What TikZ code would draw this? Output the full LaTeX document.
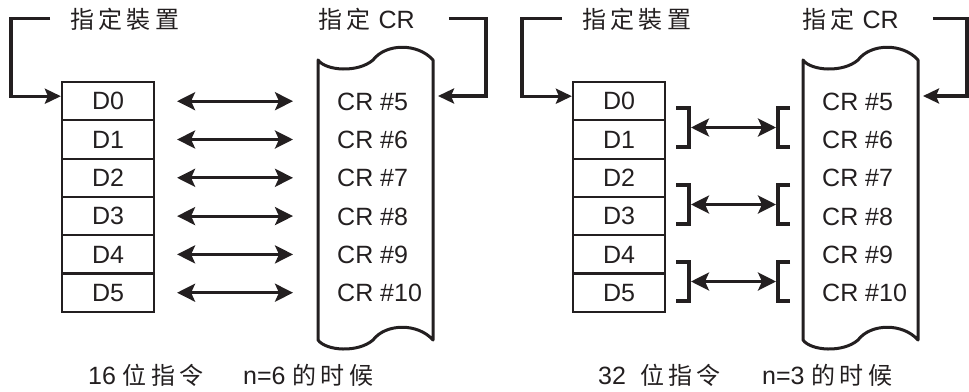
\documentclass[tikz,border=0pt]{standalone}
\usepackage{fontspec}
\setmainfont{Liberation Sans}
\newfontfamily\cjk[LetterSpace=18,Scale=0.96]{Noto Sans CJK SC}
\usetikzlibrary{arrows.meta,calc}
\definecolor{ink}{RGB}{35,31,32}
\begin{document}
\begin{tikzpicture}[x=1pt,y=-1pt,
  every node/.style={inner sep=0pt, text=ink},
  cell/.style={draw=ink, line width=2.2pt, minimum width=92pt, minimum height=38.3pt, font=\fontsize{25}{30}\selectfont},
  crlab/.style={anchor=base west, font=\fontsize{25}{30}\selectfont},
  toplab/.style={anchor=base west, font=\fontsize{25}{30}\selectfont},
  caplab/.style={anchor=base west, font=\fontsize{25}{30}\selectfont},
  dblarrow/.style={draw=ink, line width=3pt, {Stealth[length=18pt,width=18pt,inset=4pt]}-{Stealth[length=18pt,width=18pt,inset=4pt]}},
  feed/.style={draw=ink, line width=3.2pt, -{Stealth[length=16pt,width=15pt,inset=3pt]}},
  brk/.style={draw=ink, line width=3.2pt},
  scrollline/.style={draw=ink, line width=3pt, line join=round}
]
\useasboundingbox (0,0) rectangle (969,391);

% ---------- left panel ----------
\foreach \i/\lab/\cr in {0/D0/5,1/D1/6,2/D2/7,3/D3/8,4/D4/9,5/D5/10}{
  \node[cell] (dL\i) at (108,{101.2+38.3*\i}) {\lab};
  \node[crlab] (cL\i) at (337,{110.2+38.3*\i}) {CR \#\cr};
  \draw[dblarrow,shorten <=22pt,shorten >=44pt] (dL\i.east) -- (dL\i.east -| cL\i.west);
}
\begin{scope}[shift={(318,60)}]
  \draw[scrollline] (0,0) .. controls (8,11) and (40,13) .. (55,0)
    .. controls (68,-17) and (100,-17) .. (115,0) -- (115,280)
    .. controls (100,263) and (68,263) .. (55,280)
    .. controls (40,293) and (8,291) .. (0,280) -- cycle;
\end{scope}
\node[toplab] (devL) at (70,28) {{\cjk 指定裝置}};
\node[toplab] (crL) at (318,28) {{\cjk 指定}\hspace{8pt}CR};
\coordinate (kL) at (486,96);
\coordinate (inL) at (438,96);
\draw[feed] ([xshift=-20pt]devL.west) -| ([xshift=-50pt,yshift=5pt]dL0.west) -- ([yshift=5pt]dL0.west);
\draw[feed] ([xshift=34pt]crL.east) -| (kL) -- (inL);
\node[caplab] (capL1) at (88,384) {16 {\cjk 位指令}};
\node[caplab] (capL2) at (243,384) {n=6 {\cjk 的时候}};

% ---------- right panel ----------
\foreach \i/\lab/\cr in {0/D0/5,1/D1/6,2/D2/7,3/D3/8,4/D4/9,5/D5/10}{
  \node[cell] (dR\i) at (619,{101.2+38.3*\i}) {\lab};
  \node[crlab] (cR\i) at (822,{110.2+38.3*\i}) {CR \#\cr};
}
\foreach \i/\yc in {1/127.5,2/204.5,3/281.5}{
  \coordinate (ja\i) at (689,\yc);
  \coordinate (jb\i) at (778,\yc);
  \draw[brk] ([shift={(-13,-19.5)}]ja\i) -- ([shift={(0,-19.5)}]ja\i) -- ([shift={(0,19.5)}]ja\i) -- ([shift={(-13,19.5)}]ja\i);
  \draw[brk] ([shift={(12,-19.5)}]jb\i) -- ([shift={(0,-19.5)}]jb\i) -- ([shift={(0,19.5)}]jb\i) -- ([shift={(12,19.5)}]jb\i);
  \draw[dblarrow] ([xshift=2pt]ja\i) -- ([xshift=-2pt]jb\i);
}
\begin{scope}[shift={(803,60)}]
  \draw[scrollline] (0,0) .. controls (8,11) and (40,13) .. (55,0)
    .. controls (68,-17) and (100,-17) .. (115,0) -- (115,280)
    .. controls (100,263) and (68,263) .. (55,280)
    .. controls (40,293) and (8,291) .. (0,280) -- cycle;
\end{scope}
\node[toplab] (devR) at (582,28) {{\cjk 指定裝置}};
\node[toplab] (crR) at (802,28) {{\cjk 指定}\hspace{8pt}CR};
\coordinate (kR) at (967,96);
\coordinate (inR) at (923,96);
\draw[feed] ([xshift=-20pt]devR.west) -| ([xshift=-50pt,yshift=5pt]dR0.west) -- ([yshift=5pt]dR0.west);
\draw[feed] ([xshift=34pt]crR.east) -| (kR) -- (inR);
\node[caplab] (capR1) at (598,384) {32\hspace{14pt}{\cjk 位指令}};
\node[caplab] (capR2) at (762,384) {n=3 {\cjk 的时候}};
\end{tikzpicture}
\end{document}
